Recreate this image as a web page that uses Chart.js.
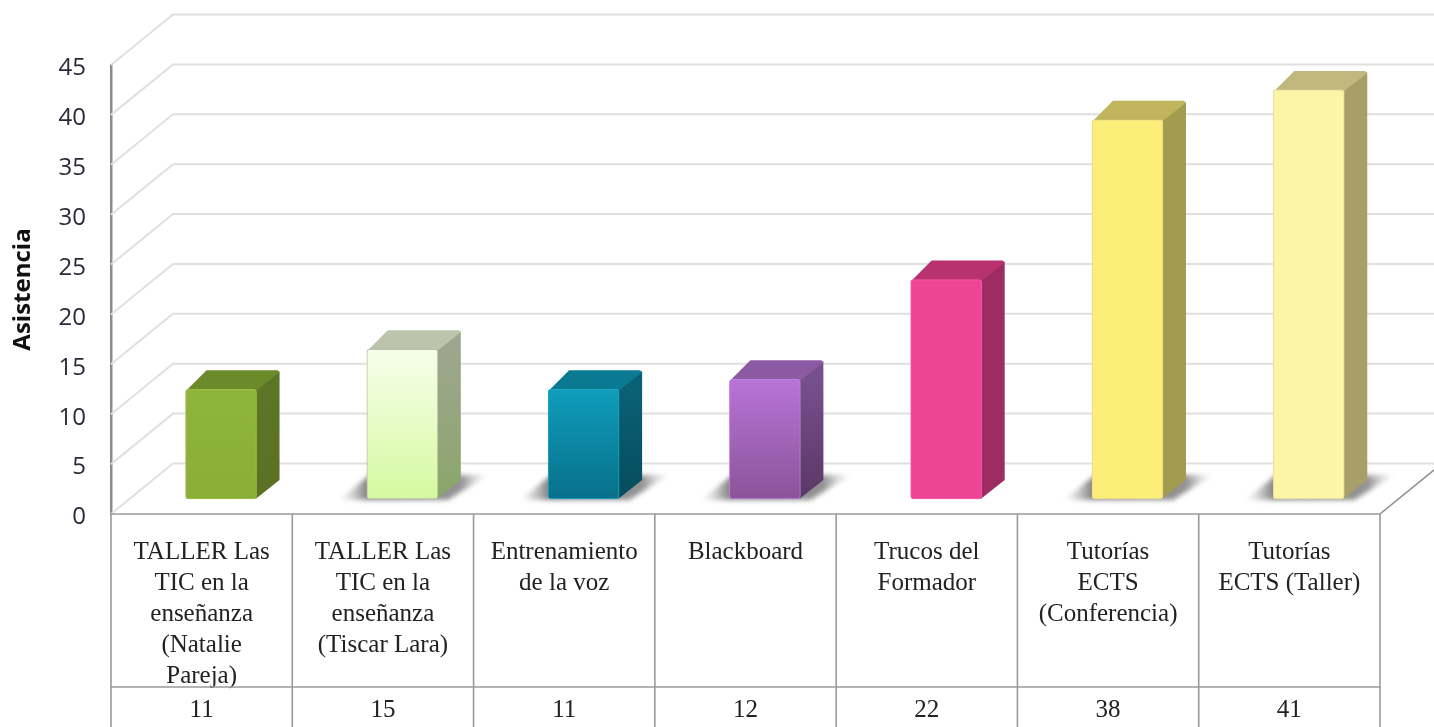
<!DOCTYPE html>
<html>
<head>
<meta charset="utf-8">
<title>Asistencia</title>
<style>
html,body{margin:0;padding:0;background:#fff;overflow:hidden}
#wrap{width:1434px;height:727px}
</style>
<script src="https://cdn.jsdelivr.net/npm/chart.js@4"></script>
</head>
<body>
<div id="wrap"><canvas id="chart" width="1434" height="727"></canvas></div>
<script>
// data
const categories = [
    ['TALLER Las','TIC en la','enseñanza','(Natalie','Pareja)'],
    ['TALLER Las','TIC en la','enseñanza','(Tiscar Lara)'],
    ['Entrenamiento','de la voz'],
    ['Blackboard'],
    ['Trucos del','Formador'],
    ['Tutorías','ECTS','(Conferencia)'],
    ['Tutorías','ECTS (Taller)']
];
const asistencia = [11,15,11,12,22,38,41];
const yTicks = [0,5,10,15,20,25,30,35,40,45];
const withShadow = [false,true,true,true,false,true,true];

// front top/bottom, side top/bottom, lid colour of each bar
const frontTop = ['#8fb53c','#f6ffea','#0f9dbc','#b873d8','#ee4496','#fdee7a','#fdf5a6'];
const frontBottom = ['#8aae38','#d5f99e','#08708a','#8b5499','#ee4496','#fdee7a','#fdf5a6'];
const sideTop = ['#5c7526','#9ea68e','#0a6074','#76508c','#9c2c62','#a39b50','#a79e68'];
const sideBottom = ['#5c7024','#8aa66a','#064c5e','#5a3866','#9c2c62','#a39b50','#a79e68'];
const lidColors = ['#6b8a2a','#bcc4ac','#0a7a92','#8c5aa2','#b8326f','#c0b55c','#c0b87c'];
const edgeColors = ['#9cc04a','#b8c0a8','#1ea6c2','#c080dc','#f25aa4','#e0d890','#e4dca0'];

// depth of the 3d box
const wallDx = 62, wallDy = -50.5;
const barDx = 19.4, barDy = -15;
const depthDx = 23, depthDy = -19;

function poly(ctx, pts, fill){
    ctx.beginPath();
    pts.forEach((p,i)=> i ? ctx.lineTo(p[0],p[1]) : ctx.moveTo(p[0],p[1]));
    ctx.closePath();
    ctx.fillStyle = fill;
    ctx.fill();
}

const box3d = {
    id:'box3d',
    beforeDatasetsDraw(chart){
        const {ctx, scales:{x,y}, chartArea:a} = chart;
        ctx.save();
        // walls
        ctx.lineWidth = 2;
        ctx.strokeStyle = '#e0e0e0';
        yTicks.forEach(v=>{
            const py = y.getPixelForValue(v);
            ctx.beginPath();
            ctx.moveTo(a.left, py);
            ctx.lineTo(a.left+wallDx, py+wallDy);
            ctx.lineTo(1434, py+wallDy);
            ctx.stroke();
        });
        // floor edge on the right
        ctx.strokeStyle = '#8c8c8c';
        ctx.lineWidth = 1.6;
        ctx.beginPath();
        ctx.moveTo(a.right, a.bottom);
        ctx.lineTo(a.right+wallDx, a.bottom+wallDy);
        ctx.stroke();

        // value axis labels, the font sits a bit high so they are placed by hand off the scale
        ctx.fillStyle = '#2a2a3a';
        ctx.font = '24px "Open Sans"';
        ctx.textAlign = 'right';
        ctx.textBaseline = 'middle';
        yTicks.forEach(v=> ctx.fillText(String(v), a.left-25, y.getPixelForValue(v)+3.5));

        const meta = chart.getDatasetMeta(0);
        // floor shadows
        meta.data.forEach((bar,i)=>{
            if(!withShadow[i]) return;
            const L = bar.x-bar.width/2+barDx, R = bar.x+bar.width/2+barDx, B = bar.base+barDy;
            const w = R+50-(L-28);
            const g = ctx.createLinearGradient(L-28,0,R+50,0);
            g.addColorStop(0,'rgba(120,120,120,0)');
            g.addColorStop(14/w,'rgba(120,120,120,.35)');
            g.addColorStop(28/w,'rgba(120,120,120,.9)');
            g.addColorStop((28+bar.width+23)/w,'rgba(120,120,120,.8)');
            g.addColorStop((28+bar.width+35)/w,'rgba(120,120,120,.35)');
            g.addColorStop(1,'rgba(120,120,120,0)');
            ctx.save();
            ctx.filter = 'blur(2.5px)';
            poly(ctx,[[L-28,B+1],[L+3,B-24],[R+50,B-24],[R+10,B+1]],g);
            ctx.restore();
        });
        // side and lid of each bar
        ctx.lineJoin = 'round';
        meta.data.forEach((bar,i)=>{
            const L = bar.x-bar.width/2+barDx, R = bar.x+bar.width/2+barDx;
            const T = bar.y+barDy, B = bar.base+barDy;
            const g = ctx.createLinearGradient(0,T,0,B);
            g.addColorStop(0,sideTop[i]);
            g.addColorStop(1,sideBottom[i]);
            poly(ctx,[[R-1,T+1],[R+depthDx,T+depthDy+1],[R+depthDx,B+depthDy],[R-1,B]],g);
            poly(ctx,[[L+1,T+1],[L+depthDx-2,T+depthDy],[R+depthDx-2,T+depthDy],[R+depthDx,T+depthDy+2],[R,T+1]],lidColors[i]);
        });
        ctx.restore();
        // bars themselves are drawn by the library, pushed back onto the floor
        ctx.save();
        ctx.translate(barDx,barDy);
    },
    afterDatasetsDraw(chart){
        chart.ctx.restore();
        const {ctx, scales:{x}, chartArea:a} = chart;
        const bandW = (a.right-a.left)/categories.length;
        ctx.save();
        // data table under the plot
        ctx.strokeStyle = '#9a9a9a';
        ctx.lineWidth = 1.6;
        const rowY = 687;
        ctx.beginPath();
        ctx.moveTo(a.left-1,a.bottom); ctx.lineTo(a.right,a.bottom);
        ctx.moveTo(a.left-1,rowY); ctx.lineTo(a.right+1,rowY);
        for(let i=0;i<=categories.length;i++){
            const px = a.left+bandW*i;
            ctx.moveTo(px,a.bottom); ctx.lineTo(px,727);
        }
        ctx.stroke();
        ctx.fillStyle = '#222';
        ctx.font = '25px "Liberation Serif"';
        ctx.textAlign = 'center';
        ctx.textBaseline = 'middle';
        asistencia.forEach((v,i)=> ctx.fillText(String(v), x.getPixelForTick(i), 710));
        ctx.restore();
    }
};

new Chart(document.getElementById('chart'),{
    type:'bar',
    data:{
        labels:categories,
        datasets:[{
            label:'Asistencia',
            data:asistencia,
            barThickness:71,
            borderRadius:3,
            borderSkipped:false,
            borderWidth:1,
            borderColor:ctx=>edgeColors[ctx.dataIndex],
            backgroundColor:ctx=>{
                if(ctx.parsed === undefined || !ctx.chart.chartArea) return frontTop[ctx.dataIndex];
                const s = ctx.chart.scales.y;
                const g = ctx.chart.ctx.createLinearGradient(0,s.getPixelForValue(ctx.parsed.y),0,s.getPixelForValue(0));
                g.addColorStop(0,frontTop[ctx.dataIndex]);
                g.addColorStop(1,frontBottom[ctx.dataIndex]);
                return g;
            },
            clip:false
        }]
    },
    options:{
        responsive:false,
        animation:false,
        devicePixelRatio:1,
        layout:{padding:{top:65,right:54,left:0,bottom:0}},
        plugins:{legend:{display:false},tooltip:{enabled:false},title:{display:false}},
        scales:{
            x:{
                offset:true,
                grid:{display:false,drawTicks:false},
                border:{display:false},
                afterFit(s){ s.height = 213; },
                ticks:{
                    autoSkip:false,maxRotation:0,minRotation:0,padding:23,
                    color:'#222',
                    font:{family:'"Liberation Serif"',size:25,lineHeight:1.24}
                }
            },
            y:{
                min:0,max:45,
                afterBuildTicks(s){ s.ticks = yTicks.map(v=>({value:v})); },
                afterFit(s){ s.width = 111; },
                grid:{display:false,drawTicks:false},
                border:{display:true,color:'#8c8c8c',width:2.5},
                ticks:{display:false},
                title:{
                    display:true,text:'Asistencia',color:'#111',
                    font:{family:'"Open Sans"',size:24,weight:'bold'},
                    padding:{top:9,bottom:0}
                }
            }
        }
    },
    plugins:[box3d]
});
</script>
</body>
</html>
